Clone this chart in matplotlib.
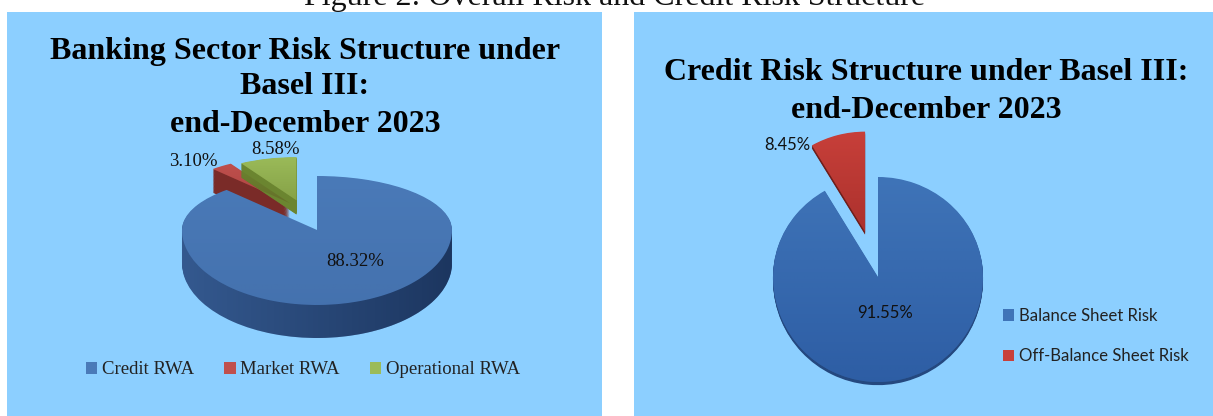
import numpy as np
import matplotlib
matplotlib.use("Agg")
import matplotlib.pyplot as plt
from matplotlib.patches import Rectangle, Patch
from matplotlib.path import Path

W, H = 1213, 416

# values
risk_labels = ["Credit RWA", "Market RWA", "Operational RWA"]
risk_values = [88.32, 3.10, 8.58]
credit_labels = ["Balance Sheet Risk", "Off-Balance Sheet Risk"]
credit_values = [91.55, 8.45]

PANEL = "#8ccfff"
BLUE = "#4a7ab8"
RED = "#c0504d"
GREEN = "#9bbb59"
SERIF = "Liberation Serif"
SANS = "Lato"

fig = plt.figure(figsize=(W / 100, H / 100), dpi=100, facecolor="white")

# pixel axes, y going down, one under the pies and one over them
bg = fig.add_axes([0, 0, 1, 1], zorder=0)
bg.set_xlim(0, W)
bg.set_ylim(H, 0)
bg.axis("off")
over = fig.add_axes([0, 0, 1, 1], zorder=2)
over.axis("off")
over.patch.set_visible(False)

bg.add_patch(Rectangle((7, 12), 595, H - 12, color=PANEL, lw=0))
bg.add_patch(Rectangle((634, 12), W - 634, H - 12, color=PANEL, lw=0))


def pie_axes(cx, cy, rx, up, down):
    # y above the apex is squeezed compared to below, the chart has perspective
    span = 1.9
    ax = fig.add_axes([(cx - rx * span) / W, 1 - (cy + down * span) / H,
                       2 * rx * span / W, (up + down) * span / H], zorder=1)

    def fwd(y):
        y = np.asarray(y, dtype=float)
        return np.where(y > 0, y * up, y * down)

    def inv(y):
        y = np.asarray(y, dtype=float)
        return np.where(y > 0, y / up, y / down)

    return ax, fwd, inv


def finish_axes(ax, fwd, inv):
    ax.set_aspect("auto")
    ax.set_xlim(-1.9, 1.9)
    ax.set_yscale("function", functions=(fwd, inv))
    ax.set_ylim(-1.9, 1.9)
    ax.axis("off")


def draw_pie(ax, values, colors, side_colors, explode, depth, radii, lift, thick, z, layers=30):
    opts = dict(explode=explode, startangle=90, counterclock=False, frame=False)
    for d in np.linspace(depth, 0, layers, endpoint=False):
        wedges, _ = ax.pie(values, colors=side_colors, center=(0, -d), **opts)
        for i, w in enumerate(wedges):
            w.set_radius(radii[i])
            # thick < 1 gives a slice a thinner side than the others
            w.set_center((w.center[0], w.center[1] + lift[i] + d * (1 - thick[i])))
            w.set_zorder(z[i])
    wedges, _ = ax.pie(values, colors=colors, **opts)
    for i, w in enumerate(wedges):
        w.set_radius(radii[i])
        w.set_center((w.center[0], w.center[1] + lift[i]))
        w.set_zorder(z[i] + 0.5)
    return wedges


def shade(wedge_or_path, box, alpha_top, alpha_bottom, color, horizontal=False, transform=None):
    n = 128
    ramp = np.linspace(alpha_top, alpha_bottom, n)
    img = np.zeros((n, 1, 4)) if not horizontal else np.zeros((1, n, 4))
    img[..., :3] = color
    img[..., 3] = ramp[:, None] if not horizontal else ramp[None, :]
    x0, x1, y0, y1 = box
    im = over.imshow(img, extent=(x0, x1, y1, y0), aspect="auto", interpolation="bilinear")
    if transform is None:
        im.set_clip_path(wedge_or_path)
    else:
        im.set_clip_path(wedge_or_path, transform=transform)


# left pie
ax1, fwd1, inv1 = pie_axes(317, 230, 135, 54, 75)
left = draw_pie(ax1, risk_values, [BLUE, RED, GREEN], ["#34598f", "#7a2b28", "#6b8530"],
                [0, 0.34, 0.57], 0.44, [1, 0.85, 0.8], [0, 0.225, 0], [1, 1, 0.6], [5, 1, 3])
finish_axes(ax1, fwd1, inv1)

# right pie
ax2, fwd2, inv2 = pie_axes(878, 277, 105, 100, 105)
right = draw_pie(ax2, credit_values, ["#3f74b8", "#c8403a"], ["#24487f", "#6e1f1c"],
                 [0, 0.47], 0.03, [1, 1], [0, 0], [1, 1], [5, 1], layers=4)
finish_axes(ax2, fwd2, inv2)

# side band of the left pie, darker going right
t = np.linspace(np.pi, 2 * np.pi, 80)
band = np.vstack([np.column_stack([np.cos(t), np.sin(t)]),
                  np.column_stack([np.cos(t[::-1]), np.sin(t[::-1]) - 0.44])])
shade(Path(band), (180, 455, 230, 345), 0.0, 0.6, (0.05, 0.12, 0.25), horizontal=True,
      transform=ax1.transData)

# soft shading on the faces
shade(left[0], (180, 455, 170, 310), 0.0, 0.12, (0.1, 0.2, 0.4))
shade(right[0], (770, 985, 175, 385), 0.0, 0.35, (0.05, 0.2, 0.5))
shade(right[1], (810, 870, 128, 235), 0.0, 0.3, (0.4, 0.05, 0.05))
shade(left[1], (210, 295, 160, 210), 0.0, 0.2, (0.3, 0.05, 0.05))
shade(left[2], (240, 300, 155, 205), 0.0, 0.25, (0.25, 0.3, 0.05))

over.set_xlim(0, W)
over.set_ylim(H, 0)


def px_text(x, y, s, **kw):
    kw.setdefault("ha", "center")
    kw.setdefault("va", "center")
    fig.text(x / W, 1 - y / H, s, **kw)


# titles
px_text(615, 5, "Figure 2: Overall Risk and Credit Risk Structure", family=SERIF, fontsize=23,
        va="baseline", color="#111111")
for y, line in zip([51, 87, 124], ["Banking Sector Risk Structure under", "Basel III:", "end-December 2023"]):
    px_text(305, y, line, family=SERIF, fontsize=23, fontweight="bold", color="black")
for y, line in zip([73, 110], ["Credit Risk Structure under Basel III:", "end-December 2023"]):
    px_text(926, y, line, family=SERIF, fontsize=23, fontweight="bold", color="black")

# value labels
px_text(355, 262, "%.2f%%" % risk_values[0], family=SERIF, fontsize=13.5, color="#111111")
px_text(193, 161, "%.2f%%" % risk_values[1], family=SERIF, fontsize=13.5, color="#111111")
px_text(276, 149, "%.2f%%" % risk_values[2], family=SERIF, fontsize=13.5, color="#111111")
px_text(885, 313, "%.2f%%" % credit_values[0], family=SANS, fontsize=12, color="#111111")
px_text(787, 145, "%.2f%%" % credit_values[1], family=SANS, fontsize=12, color="#111111")

# legends
h1 = [Patch(color=c, lw=0) for c in [BLUE, RED, GREEN]]
fig.legend(h1, risk_labels, loc="center", bbox_to_anchor=(303 / W, 1 - 370 / H), ncol=3, frameon=False,
           prop={"family": SERIF, "size": 13.5}, handlelength=0.6, handleheight=0.6, handletextpad=0.25,
           columnspacing=1.62, labelcolor="#222222")
h2 = [Patch(color=c, lw=0) for c in ["#3f74b8", "#c8403a"]]
fig.legend(h2, credit_labels, loc="center", bbox_to_anchor=(1096 / W, 1 - 336 / H), ncol=1, frameon=False,
           prop={"family": SANS, "size": 12.1}, handlelength=0.65, handleheight=0.65, handletextpad=0.3,
           labelspacing=1.45, labelcolor="#222222")

fig.savefig("out.png", dpi=100)
